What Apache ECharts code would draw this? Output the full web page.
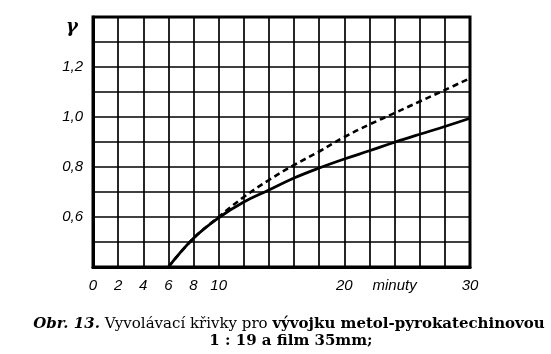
<!DOCTYPE html>
<html><head><meta charset="utf-8">
<script src="https://cdn.jsdelivr.net/npm/echarts@6/dist/echarts.min.js"></script>
<style>html,body{margin:0;padding:0;background:#fff}#c{width:551px;height:354px}</style>
</head><body><div id="c"></div>
<script>
const minutes = [6, 8, 10, 12, 14, 16, 18, 20, 22, 24, 26, 28, 30];
const solidGamma = [0.40, 0.515, 0.597, 0.66, 0.708, 0.756, 0.796, 0.832, 0.865, 0.899, 0.931, 0.962, 0.995];
const dashedGamma = [0.40, 0.515, 0.60, 0.68, 0.748, 0.808, 0.862, 0.92, 0.97, 1.016, 1.062, 1.108, 1.155];
const xTickLabels = {0: '0', 2: '2', 4: '4', 6: '6', 8: '8', 10: '10', 20: '20', 24: 'minuty', 30: '30'};
const yTickLabels = {6: '0,6', 8: '0,8', 10: '1,0', 12: '1,2'};
const yName = 'γ';
const captionLine1 = ['Obr. 13.', ' Vyvolávací křivky pro ', 'vývojku metol-pyrokatechinovou'];
const captionLine2 = '1 : 19 a film 35mm;';

const chart = echarts.init(document.getElementById('c'), null, {renderer: 'canvas'});
const pair = (xs, ys) => xs.map((x, i) => [x, ys[i]]);
chart.setOption({
  animation: false,
  backgroundColor: '#fff',
  grid: {left: 93, right: 81, top: 17, bottom: 87, show: true, borderColor: '#000', borderWidth: 3},
  xAxis: {
    type: 'value', min: 0, max: 30, interval: 2,
    axisLine: {show: true, lineStyle: {color: '#000', width: 3}},
    axisTick: {show: false},
    splitLine: {show: true, lineStyle: {color: '#000', width: 1.7}},
    axisLabel: {
      color: '#000', fontFamily: 'Liberation Sans', fontStyle: 'italic', fontSize: 15, margin: 11,
      formatter: v => xTickLabels[Math.round(v)] !== undefined ? xTickLabels[Math.round(v)] : ''
    }
  },
  yAxis: {
    type: 'value', min: 0.4, max: 1.4, interval: 0.1,
    axisLine: {show: true, lineStyle: {color: '#000', width: 3}},
    axisTick: {show: false},
    splitLine: {show: true, lineStyle: {color: '#000', width: 1.7}},
    axisLabel: {
      color: '#000', fontFamily: 'Liberation Sans', fontStyle: 'italic', fontSize: 15, margin: 10,
      formatter: v => yTickLabels[Math.round(v * 10)] || ''
    }
  },
  series: [
    {type: 'line', name: 'solid', data: pair(minutes, solidGamma), smooth: 0.4, showSymbol: false,
     lineStyle: {color: '#000', width: 2.8}},
    {type: 'line', name: 'dashed', data: pair(minutes, dashedGamma), smooth: 0.4, showSymbol: false,
     lineStyle: {color: '#000', width: 2.6, type: [6, 4]}}
  ],
  graphic: [
    {type: 'text', left: 66, top: 18, style: {text: yName, font: 'italic bold 18px "DejaVu Serif"', fill: '#000'}},
    {type: 'text', x: 289, y: 324, style: {
      text: '{a|' + captionLine1[0] + '}{b|' + captionLine1[1] + '}{c|' + captionLine1[2] + '}',
      align: 'center', verticalAlign: 'middle',
      rich: {
        a: {font: 'italic bold 15px "DejaVu Serif"', fill: '#000'},
        b: {font: '15px "DejaVu Serif"', fill: '#000'},
        c: {font: 'bold 15px "DejaVu Serif"', fill: '#000'}
      }
    }},
    {type: 'text', x: 291, y: 341, style: {text: captionLine2, align: 'center', verticalAlign: 'middle',
      font: 'bold 15px "DejaVu Serif"', fill: '#000'}}
  ]
});
</script></body></html>
